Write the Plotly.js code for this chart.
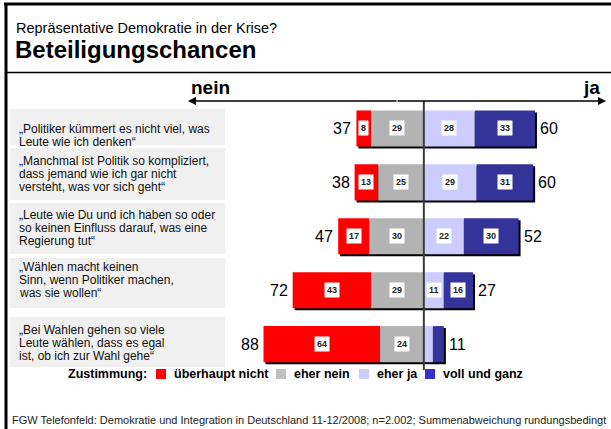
<!DOCTYPE html>
<html>
<head>
<meta charset="utf-8">
<script src="https://cdn.plot.ly/plotly-3.0.1.min.js"></script>
<style>html,body{margin:0;padding:0;background:#fff;}#chart{width:611px;height:429px;}</style>
</head>
<body>
<div id="chart"></div>
<script>
// ---- data ----
const questions = [
  '„Politiker kümmert es nicht viel, was<br>Leute wie ich denken“',
  '„Manchmal ist Politik so kompliziert,<br>dass jemand wie ich gar nicht<br>versteht, was vor sich geht“',
  '„Leute wie Du und ich haben so oder<br>so keinen Einfluss darauf, was eine<br>Regierung tut“',
  '„Wählen macht keinen<br>Sinn, wenn Politiker machen,<br>was sie wollen“',
  '„Bei Wahlen gehen so viele<br>Leute wählen, dass es egal<br>ist, ob ich zur Wahl gehe“'
];
const ueberhauptNicht = [8, 13, 17, 43, 64];
const eherNein = [29, 25, 30, 29, 24];
const eherJa = [28, 29, 22, 11, 5];
const vollUndGanz = [33, 31, 30, 16, 6];
const neinTotals = [37, 38, 47, 72, 88];
const jaTotals = [60, 60, 52, 27, 11];
const seriesNames = ['überhaupt nicht', 'eher nein', 'eher ja', 'voll und ganz'];

// ---- styles / layout ----
const barColors = ['#ff0000', '#b3b3b3', '#ccccff', '#333399'];
const legendColors = ['#ff0000', '#c0c0c0', '#ccccff', '#3333cc'];
const FONT = 'Liberation Sans, Arial, Helvetica, sans-serif';
const W = 611, H = 429;
const M = {l: 187, r: 5, t: 101, b: 59};
const PW = W - M.l - M.r, PH = H - M.t - M.b;
const xr = [-130, 100];
const yr = [4.48, -0.51];
const kx = PW / (xr[1] - xr[0]);
const ky = PH / (yr[0] - yr[1]);
const SH = 2; // shadow offset px
const px2x = p => (p - M.l) / PW;
const py2y = p => (M.t + PH - p) / PH;

const neg = a => a.map(v => -v);
const leftBase = ueberhauptNicht.map((v, i) => -(v + eherNein[i]));
const rightEnd = eherJa.map((v, i) => v + vollUndGanz[i]);
const fullLen = leftBase.map((b, i) => -b + rightEnd[i]);

const segs = [
  {x: ueberhauptNicht, base: leftBase},
  {x: eherNein, base: neg(eherNein)},
  {x: eherJa, base: eherJa.map(() => 0)},
  {x: vollUndGanz, base: eherJa}
];

const traces = [{
  type: 'bar', orientation: 'h', y: questions, x: fullLen, base: leftBase,
  width: 0.67, marker: {color: '#000', line: {width: 0}}, showlegend: false,
  hoverinfo: 'skip', xaxis: 'x', yaxis: 'y'
}];
segs.forEach((s, k) => {
  traces.push({
    type: 'bar', orientation: 'h', name: seriesNames[k], y: questions, x: s.x, base: s.base,
    width: 0.67, marker: {color: barColors[k], line: {width: 0}}, showlegend: false,
    xaxis: 'x2', yaxis: 'y2'
  });
});

const annotations = [];
const shapes = [];

// segment value labels
segs.forEach((s, k) => {
  s.x.forEach((v, i) => {
    if (v * kx < 12) return;
    annotations.push({
      xref: 'x2', yref: 'y2', x: s.base[i] + v / 2, y: questions[i],
      text: '<b>' + v + '</b>', showarrow: false, bgcolor: '#fff', borderpad: 2,
      font: {family: FONT, size: 9, color: '#222'}
    });
  });
});
// totals
questions.forEach((q, i) => {
  annotations.push({xref: 'x2', yref: 'y2', x: leftBase[i], y: q, xanchor: 'right', xshift: -3,
    text: String(neinTotals[i]), showarrow: false, font: {family: FONT, size: 16, color: '#000'}});
  annotations.push({xref: 'x2', yref: 'y2', x: rightEnd[i], y: q, xanchor: 'left', xshift: 3,
    text: String(jaTotals[i]), showarrow: false, font: {family: FONT, size: 16, color: '#000'}});
});

// row labels + boxes
const boxes = [[109, 145], [148, 200], [203, 254], [258, 308], [317, 367]];
const textMid = [135.5, 174, 228, 280, 342.5];
const LINE = 13;
questions.forEach((q, i) => {
  shapes.push({type: 'rect', xref: 'paper', yref: 'paper', x0: px2x(10), x1: px2x(225),
    y0: py2y(boxes[i][1]), y1: py2y(boxes[i][0]), fillcolor: '#f0f0f0', line: {width: 0}, layer: 'below'});
  const lines = q.split('<br>');
  lines.forEach((ln, j) => {
    const cy = textMid[i] + (j - (lines.length - 1) / 2) * LINE;
    annotations.push({xref: 'paper', yref: 'paper', x: px2x(17), y: py2y(cy),
      xanchor: 'left', yanchor: 'middle', align: 'left', text: ln, showarrow: false,
      font: {family: FONT, size: 12, color: '#111'}});
  });
});

// titles
annotations.push({xref: 'paper', yref: 'paper', x: px2x(14), y: py2y(28), xanchor: 'left', yanchor: 'middle',
  text: 'Repräsentative Demokratie in der Krise?', showarrow: false, font: {family: FONT, size: 14.5, color: '#000'}});
annotations.push({xref: 'paper', yref: 'paper', x: px2x(13), y: py2y(50), xanchor: 'left', yanchor: 'middle',
  text: '<b>Beteiligungschancen</b>', showarrow: false, font: {family: FONT, size: 24, color: '#000'}});

// nein / ja
annotations.push({xref: 'paper', yref: 'paper', x: px2x(189), y: py2y(88), xanchor: 'left', yanchor: 'middle',
  text: '<b>nein</b>', showarrow: false, font: {family: FONT, size: 19, color: '#000'}});
annotations.push({xref: 'paper', yref: 'paper', x: px2x(602), y: py2y(88), xanchor: 'right', yanchor: 'middle',
  text: '<b>ja</b>', showarrow: false, font: {family: FONT, size: 19, color: '#000'}});

// arrows
annotations.push({xref: 'paper', yref: 'paper', x: px2x(188), y: py2y(101), axref: 'pixel', ayref: 'pixel',
  ax: 210, ay: 0, text: '', showarrow: true, arrowhead: 2, arrowsize: 1, arrowwidth: 1.6, arrowcolor: '#000', standoff: 0});
annotations.push({xref: 'paper', yref: 'paper', x: px2x(606), y: py2y(101), axref: 'pixel', ayref: 'pixel',
  ax: -210, ay: 0, text: '', showarrow: true, arrowhead: 2, arrowsize: 1, arrowwidth: 1.6, arrowcolor: '#000', standoff: 0});

// center line
shapes.push({type: 'line', xref: 'x2', yref: 'paper', x0: 0, x1: 0, y0: py2y(370), y1: py2y(101),
  line: {color: '#3a3a3a', width: 2}});

// frame
shapes.push({type: 'line', xref: 'paper', yref: 'paper', x0: px2x(4), x1: px2x(611), y0: py2y(4), y1: py2y(4), line: {color: '#000', width: 3}});
shapes.push({type: 'line', xref: 'paper', yref: 'paper', x0: px2x(6), x1: px2x(6), y0: py2y(3), y1: py2y(429), line: {color: '#000', width: 3}});
shapes.push({type: 'line', xref: 'paper', yref: 'paper', x0: px2x(7), x1: px2x(611), y0: py2y(72.5), y1: py2y(72.5), line: {color: '#000', width: 1.3}});

// legend (manual)
const LY = 374;
annotations.push({xref: 'paper', yref: 'paper', x: px2x(66), y: py2y(LY), xanchor: 'left', yanchor: 'middle',
  text: '<b>Zustimmung:</b>', showarrow: false, font: {family: FONT, size: 12.5, color: '#000'}});
const legSq = [156, 276, 359, 425];
seriesNames.forEach((n, k) => {
  shapes.push({type: 'rect', xref: 'paper', yref: 'paper', x0: px2x(legSq[k]), x1: px2x(legSq[k] + 10),
    y0: py2y(LY + 5), y1: py2y(LY - 5), fillcolor: legendColors[k], line: {width: 0}});
  annotations.push({xref: 'paper', yref: 'paper', x: px2x(legSq[k] + 16), y: py2y(LY), xanchor: 'left', yanchor: 'middle',
    text: '<b>' + n + '</b>', showarrow: false, font: {family: FONT, size: 12.5, color: '#000'}});
});

// footer
annotations.push({xref: 'paper', yref: 'paper', x: px2x(10), y: py2y(420), xanchor: 'left', yanchor: 'middle',
  text: 'FGW Telefonfeld: Demokratie und Integration in Deutschland 11-12/2008; n=2.002; Summenabweichung rundungsbedingt',
  showarrow: false, font: {family: FONT, size: 11, color: '#222'}});

const hidden = {showgrid: false, zeroline: false, showticklabels: false, showline: false, ticks: ''};
const layout = {
  width: W, height: H, margin: M, paper_bgcolor: '#fff', plot_bgcolor: 'rgba(0,0,0,0)',
  barmode: 'overlay', showlegend: false,
  xaxis: Object.assign({range: [xr[0] - SH / kx, xr[1] - SH / kx], fixedrange: true}, hidden),
  yaxis: Object.assign({type: 'category', categoryarray: questions, range: [yr[0] - SH / ky, yr[1] - SH / ky]}, hidden),
  xaxis2: Object.assign({overlaying: 'x', range: xr}, hidden),
  yaxis2: Object.assign({overlaying: 'y', type: 'category', categoryarray: questions, range: yr}, hidden),
  annotations: annotations, shapes: shapes
};
Plotly.newPlot('chart', traces, layout, {displayModeBar: false, staticPlot: true});
</script>
</body>
</html>
